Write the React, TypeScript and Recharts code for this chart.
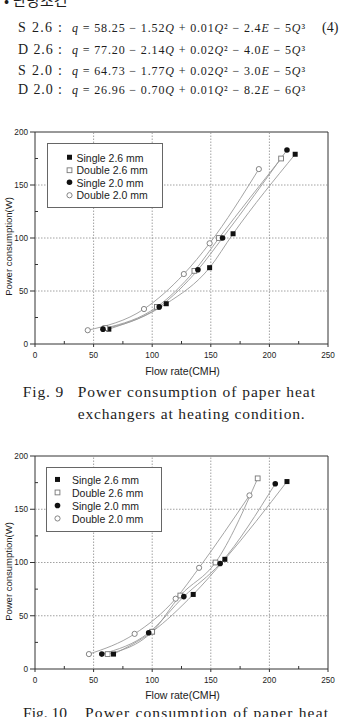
import React from "react";
import { ComposedChart, Line, XAxis, YAxis, ReferenceLine, ReferenceArea, Legend } from "recharts";

const xTicks = [0, 25, 50, 75, 100, 125, 150, 175, 200, 225, 250];
const yTicks = [0, 25, 50, 75, 100, 125, 150, 175, 200];
const gridX = [50, 100, 150, 200];
const gridY = [50, 100, 150];

const seriesNames = ["Single 2.6 mm", "Double 2.6 mm", "Single 2.0 mm", "Double 2.0 mm"];
const seriesMarkers = ["filledSquare", "openSquare", "filledCircle", "openCircle"];

// Fig. 9 heating
const heatSingle26 = [
  { flow: 63, power: 14 },
  { flow: 112, power: 38 },
  { flow: 149, power: 72 },
  { flow: 169, power: 104 },
  { flow: 222, power: 179 },
];
const heatDouble26 = [
  { flow: 60, power: 15 },
  { flow: 104, power: 35 },
  { flow: 136, power: 69 },
  { flow: 157, power: 100 },
  { flow: 210, power: 175 },
];
const heatSingle20 = [
  { flow: 58, power: 14 },
  { flow: 106, power: 35 },
  { flow: 139, power: 70 },
  { flow: 160, power: 100 },
  { flow: 215, power: 183 },
];
const heatDouble20 = [
  { flow: 45, power: 13 },
  { flow: 93, power: 33 },
  { flow: 127, power: 66 },
  { flow: 149, power: 95 },
  { flow: 191, power: 165 },
];

// Fig. 10 cooling
const coolSingle26 = [
  { flow: 67, power: 14 },
  { flow: 100, power: 35 },
  { flow: 135, power: 70 },
  { flow: 162, power: 103 },
  { flow: 215, power: 176 },
];
const coolDouble26 = [
  { flow: 62, power: 14 },
  { flow: 100, power: 35 },
  { flow: 124, power: 69 },
  { flow: 154, power: 100 },
  { flow: 190, power: 179 },
];
const coolSingle20 = [
  { flow: 57, power: 14 },
  { flow: 97, power: 34 },
  { flow: 127, power: 68 },
  { flow: 158, power: 99 },
  { flow: 205, power: 174 },
];
const coolDouble20 = [
  { flow: 46, power: 14 },
  { flow: 85, power: 33 },
  { flow: 120, power: 66 },
  { flow: 140, power: 95 },
  { flow: 183, power: 163 },
];

const eqLabels = ["S 2.6 :", "D 2.6 :", "S 2.0 :", "D 2.0 :"];
const eqTexts = [
  "q = 58.25 − 1.52Q + 0.01Q² − 2.4E − 5Q³",
  "q = 77.20 − 2.14Q + 0.02Q² − 4.0E − 5Q³",
  "q = 64.73 − 1.77Q + 0.02Q² − 3.0E − 5Q³",
  "q = 26.96 − 0.70Q + 0.01Q² − 8.2E − 6Q³",
];
const eqBaselines = [31.5, 53.5, 75, 93.5];

const INK = "#1c1c1c";
const SANS = "'Liberation Sans', Arial, sans-serif";
const SERIF = "'Liberation Serif', 'Times New Roman', serif";

function Marker({ kind, cx, cy }: { kind: string; cx: number; cy: number }) {
  if (kind === "filledSquare")
    return <rect x={cx - 2.5} y={cy - 2.5} width={5} height={5} fill="#111" />;
  if (kind === "openSquare")
    return <rect x={cx - 2.4} y={cy - 2.4} width={4.8} height={4.8} fill="#fff" stroke="#777" strokeWidth={0.9} />;
  if (kind === "filledCircle") return <circle cx={cx} cy={cy} r={2.8} fill="#111" />;
  return <circle cx={cx} cy={cy} r={2.6} fill="#fff" stroke="#777" strokeWidth={0.9} />;
}

const X_MARGIN = 11;
const Y_MARGIN = 7;

function renderXTick(props: any) {
  const { x, y, payload } = props;
  const axisY = y - X_MARGIN;
  const major = payload.value % 50 === 0;
  return (
    <g>
      <line x1={x} x2={x} y1={axisY} y2={axisY + (major ? 3 : -3)} stroke="#333" strokeWidth={1} />
      {major && (
        <text x={x} y={y} dy="0.35em" textAnchor="middle" fontSize={8.2} fill={INK} fontFamily={SANS}>
          {payload.value}
        </text>
      )}
    </g>
  );
}

function renderYTick(props: any) {
  const { x, y, payload } = props;
  const axisX = x + Y_MARGIN;
  const major = payload.value % 50 === 0;
  return (
    <g>
      <line x1={axisX} x2={axisX + (major ? -5 : 3)} y1={y} y2={y} stroke="#333" strokeWidth={1} />
      {major && (
        <text x={x} y={y} dy="0.35em" textAnchor="end" fontSize={8.2} fill={INK} fontFamily={SANS}>
          {payload.value}
        </text>
      )}
    </g>
  );
}

type LegendCfg = { left: number; top: number; markerX: number; textX: number; padTop: number; rowH: number };

function makeLegend(cfg: LegendCfg) {
  return () => (
    <div
      style={{
        width: 116,
        height: 65,
        boxSizing: "border-box",
        border: "1px solid #666",
        background: "#fff",
        paddingTop: cfg.padTop,
        fontFamily: SANS,
        fontSize: 10.5,
        color: INK,
      }}
    >
      {seriesNames.map((name, i) => (
        <div key={name} style={{ height: cfg.rowH, display: "flex", alignItems: "center", whiteSpace: "nowrap" }}>
          <svg width={cfg.textX} height={cfg.rowH} style={{ flex: "none" }}>
            <Marker kind={seriesMarkers[i]} cx={cfg.markerX} cy={cfg.rowH / 2} />
          </svg>
          <span>{name}</span>
        </div>
      ))}
    </div>
  );
}

function FlowChart({
  top,
  height,
  series,
  legend,
}: {
  top: number;
  height: number;
  series: { flow: number; power: number }[][];
  legend: LegendCfg;
}) {
  return (
    <div style={{ position: "absolute", left: 0, top }}>
      <ComposedChart width={340} height={height} margin={{ top: 10, right: 12, bottom: 0, left: 0 }}>
        <XAxis
          type="number"
          dataKey="flow"
          domain={[0, 250]}
          ticks={xTicks}
          interval={0}
          tickSize={0}
          tickMargin={X_MARGIN}
          tickLine={false}
          axisLine={false}
          tick={renderXTick}
          height={40}
          allowDataOverflow
        />
        <YAxis
          type="number"
          domain={[0, 200]}
          ticks={yTicks}
          interval={0}
          width={35}
          tickSize={0}
          tickMargin={Y_MARGIN}
          tickLine={false}
          axisLine={false}
          tick={renderYTick}
          allowDataOverflow
        />
        {gridX.map((v) => (
          <ReferenceLine key={`gx${v}`} x={v} stroke="#8a8a8a" strokeWidth={0.8} strokeDasharray="1.5 1.5" />
        ))}
        {gridY.map((v) => (
          <ReferenceLine key={`gy${v}`} y={v} stroke="#8a8a8a" strokeWidth={0.8} strokeDasharray="1.5 1.5" />
        ))}
        <ReferenceArea x1={0} x2={250} y1={0} y2={200} fill="none" stroke="#333" strokeWidth={1} />
        {series.map((data, i) => (
          <Line
            key={seriesNames[i]}
            data={data}
            dataKey="power"
            type="monotone"
            stroke="#9a9a9a"
            strokeWidth={0.9}
            isAnimationActive={false}
            dot={(p: any) => <Marker key={`m${i}-${p.index}`} kind={seriesMarkers[i]} cx={p.cx} cy={p.cy} />}
            activeDot={false}
          />
        ))}
        <Legend
          layout="horizontal"
          verticalAlign="middle"
          align="center"
          content={makeLegend(legend)}
          wrapperStyle={{ left: legend.left, top: legend.top, width: 116, height: 65 }}
        />
      </ComposedChart>
    </div>
  );
}

function Equation({ text, x, y, len }: { text: string; x: number; y: number; len: number }) {
  const parts = text.split(/([qQE])/).filter((s) => s.length > 0);
  return (
    <text x={x} y={y} fontFamily={SERIF} fontSize={12} fill={INK} textLength={len} lengthAdjust="spacing">
      {parts.map((s, i) => (
        <tspan key={i} fontStyle={/^[qQE]$/.test(s) ? "italic" : "normal"}>
          {s}
        </tspan>
      ))}
    </text>
  );
}

export default function App() {
  return (
    <div style={{ position: "absolute", left: 0, top: 0, width: 340, height: 717, background: "#fff", overflow: "hidden" }}>
      <FlowChart
        top={122}
        height={262}
        series={[heatSingle26, heatDouble26, heatSingle20, heatDouble20]}
        legend={{ left: 46.5, top: 21.3, markerX: 21.5, textX: 29, padTop: 7, rowH: 12.5 }}
      />
      <FlowChart
        top={446}
        height={263}
        series={[coolSingle26, coolDouble26, coolSingle20, coolDouble20]}
        legend={{ left: 45.5, top: 20.7, markerX: 10.5, textX: 25.5, padTop: 5.8, rowH: 12.9 }}
      />
      <svg width={340} height={717} style={{ position: "absolute", left: 0, top: 0, pointerEvents: "none" }}>
        <text x={4} y={6} fontFamily="'Noto Sans CJK KR', sans-serif" fontSize={15} fill={INK}>
          • 난방조건
        </text>
        {eqLabels.map((lab, i) => (
          <g key={lab}>
            <text x={18} y={eqBaselines[i]} fontFamily={SERIF} fontSize={14} fill={INK} textLength={44} lengthAdjust="spacing">
              {lab}
            </text>
            <Equation text={eqTexts[i]} x={72} y={eqBaselines[i]} len={233} />
          </g>
        ))}
        <text x={322} y={eqBaselines[0]} fontFamily={SERIF} fontSize={14} fill={INK}>
          (4)
        </text>

        <text x={8.5} y={246.5} transform="rotate(-90 8.5 246.5)" textAnchor="middle" dy="0.35em" fontFamily={SANS} fontSize={9.5} fill={INK}>
          Power consumption(W)
        </text>
        <text x={182.5} y={371} textAnchor="middle" dy="0.35em" fontFamily={SANS} fontSize={10.6} fill={INK}>
          Flow rate(CMH)
        </text>
        <text x={8.5} y={571.5} transform="rotate(-90 8.5 571.5)" textAnchor="middle" dy="0.35em" fontFamily={SANS} fontSize={9.5} fill={INK}>
          Power consumption(W)
        </text>
        <text x={182.5} y={695} textAnchor="middle" dy="0.35em" fontFamily={SANS} fontSize={10.6} fill={INK}>
          Flow rate(CMH)
        </text>

        <text x={22.7} y={397} fontFamily={SERIF} fontSize={15.5} fill={INK} textLength={40.6} lengthAdjust="spacing">
          Fig. 9
        </text>
        <text x={77.7} y={397} fontFamily={SERIF} fontSize={15.5} fill={INK} textLength={237.3} lengthAdjust="spacing">
          Power consumption of paper heat
        </text>
        <text x={77.7} y={419} fontFamily={SERIF} fontSize={15.5} fill={INK} textLength={227} lengthAdjust="spacing">
          exchangers at heating condition.
        </text>
        <text x={23} y={718} fontFamily={SERIF} fontSize={15.5} fill={INK} textLength={44} lengthAdjust="spacing">
          Fig. 10
        </text>
        <text x={85} y={718} fontFamily={SERIF} fontSize={15.5} fill={INK} textLength={243} lengthAdjust="spacing">
          Power consumption of paper heat
        </text>
      </svg>
    </div>
  );
}
